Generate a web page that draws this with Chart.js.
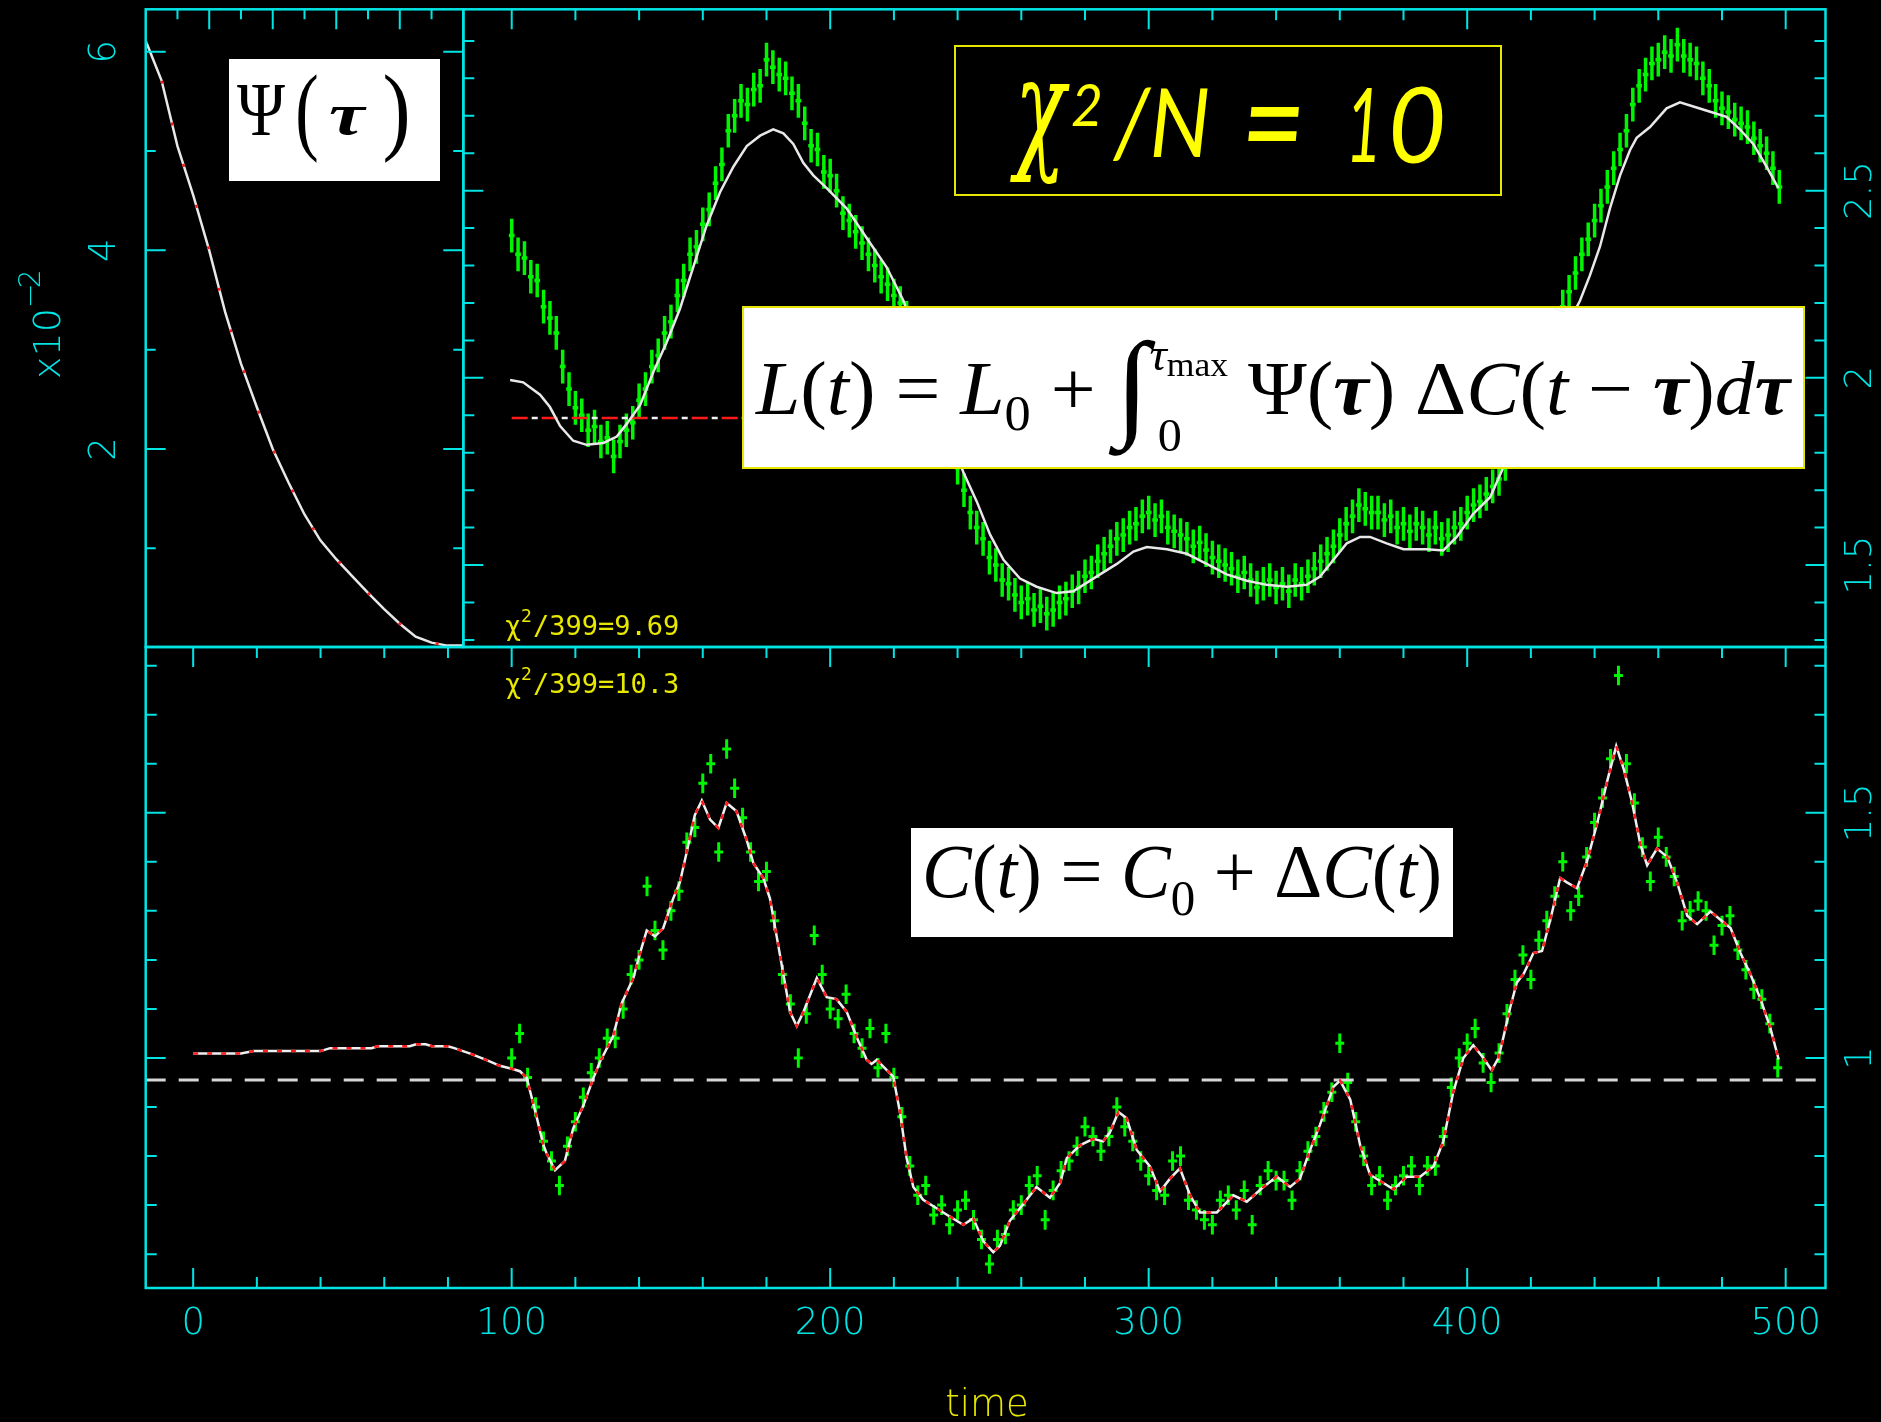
<!DOCTYPE html>
<html>
<head>
<meta charset="utf-8">
<script src="https://cdn.jsdelivr.net/npm/chart.js@4.4.1/dist/chart.umd.min.js"></script>
<style>
  html, body { margin: 0; padding: 0; background: #000; }
  #wrap { position: relative; width: 1881px; height: 1422px; background: #000; overflow: hidden; }
  #wrap canvas { position: absolute; left: 0; top: 0; }
</style>
</head>
<body>
<div id="wrap">
  <canvas id="bottomChart" width="1881" height="1422"></canvas>
  <canvas id="topChart" width="1881" height="1422"></canvas>
  <canvas id="psiChart" width="1881" height="1422"></canvas>
</div>
<script>
// ---- transfer function Psi(tau), inset
var psiTau = [0, 2.5, 5, 7.5, 10, 12.5, 15, 17.5, 20, 22.5, 25, 27.5, 30, 32.5, 35, 37.5, 40, 42.5, 45, 47.5, 50];
var psiVal = [6.11, 5.71, 5.05, 4.55, 4.0, 3.38, 2.86, 2.42, 2.0, 1.66, 1.34, 1.08, 0.89, 0.72, 0.55, 0.39, 0.24, 0.11, 0.05, 0.02, 0.02];

// ---- driving light curve C(t), model line
var tModelC = [0, 15, 19, 40, 43, 56, 58, 68, 70, 73,
  75, 80, 82, 87, 92, 96.3, 100, 102.6, 104.7, 107.8,
  110, 111, 113.6, 116.7, 119.3, 122.5, 125.6, 127.7, 131.9, 134.5,
  138.2, 140.3, 142.4, 145, 147.6, 150.7, 152.8, 154.9, 157.5, 159.7,
  162.3, 164.9, 167.5, 170.6, 173.8, 175.9, 179, 181.1, 183.2, 185.3,
  187.4, 189.5, 191.6, 195.8, 198.9, 202, 205.2, 208.3, 211.5, 213,
  214.6, 219.8, 221.9, 224, 226.1, 229.2, 235.5, 241.8, 244.9, 248.1,
  251.2, 253.3, 256.4, 260.6, 264.8, 269, 272.2, 274.3, 278.4, 282.6,
  285.7, 287.8, 290.5, 293.1, 296.2, 300.4, 303.6, 306.7, 309.8, 313,
  316.1, 321.4, 326.6, 330.8, 336, 340.2, 344.4, 347.5, 350.7, 353.8,
  358, 360.1, 363.3, 366.4, 369.5, 373.7, 376.9, 381, 385.2, 389.4,
  392.5, 395.6, 398.8, 401.9, 405.1, 407.7, 409.8, 411.4, 413.5, 415.6,
  417.7, 420.8, 423.5, 426.1, 429.2, 431.3, 434.5, 437.6, 440.8, 443.9,
  446.8, 449.2, 451.8, 454.4, 456.5, 459.6, 462.8, 465.9, 469.1, 472.2,
  476.4, 479.5, 482.7, 485.8, 488.9, 492.1, 495.2, 497.8];
var modelC = [1.009, 1.009, 1.014, 1.014, 1.02, 1.02, 1.024, 1.024, 1.028, 1.028,
  1.024, 1.024, 1.02, 1.009, 0.996, 0.984, 0.978, 0.973, 0.96, 0.881,
  0.822, 0.805, 0.771, 0.79, 0.856, 0.903, 0.958, 0.992, 1.045, 1.111,
  1.163, 1.214, 1.26, 1.248, 1.265, 1.325, 1.358, 1.418, 1.495, 1.525,
  1.486, 1.469, 1.52, 1.503, 1.444, 1.397, 1.367, 1.325, 1.248, 1.171,
  1.094, 1.065, 1.094, 1.163, 1.124, 1.12, 1.094, 1.043, 0.996, 0.988,
  0.996, 0.962, 0.89, 0.796, 0.737, 0.711, 0.685, 0.66, 0.673, 0.626,
  0.604, 0.617, 0.668, 0.702, 0.737, 0.715, 0.745, 0.796, 0.822, 0.835,
  0.83, 0.848, 0.89, 0.877, 0.813, 0.779, 0.728, 0.754, 0.775, 0.72,
  0.685, 0.685, 0.72, 0.707, 0.737, 0.758, 0.737, 0.754, 0.813, 0.864,
  0.941, 0.954, 0.915, 0.822, 0.762, 0.745, 0.732, 0.758, 0.758, 0.779,
  0.83, 0.93, 1.0, 1.026, 1.0, 0.975, 1.0, 1.043, 1.103, 1.154,
  1.171, 1.214, 1.218, 1.282, 1.367, 1.358, 1.346, 1.401, 1.478, 1.563,
  1.636, 1.588, 1.52, 1.435, 1.393, 1.427, 1.41, 1.358, 1.29, 1.273,
  1.299, 1.282, 1.265, 1.214, 1.171, 1.12, 1.061, 0.997];

// ---- C(t) measurements
var tObsC = [100, 102.5, 105, 107.5, 110, 112.5, 115, 117.5, 120, 122.5,
  125, 127.5, 130, 132.5, 135, 137.5, 140, 142.5, 145, 147.5,
  150, 152.5, 155, 157.5, 160, 162.5, 165, 167.5, 170, 172.5,
  175, 177.5, 180, 182.5, 185, 187.5, 190, 192.5, 195, 197.5,
  200, 202.5, 205, 207.5, 210, 212.5, 215, 217.5, 220, 222.5,
  225, 227.5, 230, 232.5, 235, 237.5, 240, 242.5, 245, 247.5,
  250, 252.5, 255, 257.5, 260, 262.5, 265, 267.5, 270, 272.5,
  275, 277.5, 280, 282.5, 285, 287.5, 290, 292.5, 295, 297.5,
  300, 302.5, 305, 307.5, 310, 312.5, 315, 317.5, 320, 322.5,
  325, 327.5, 330, 332.5, 335, 337.5, 340, 342.5, 345, 347.5,
  350, 352.5, 355, 357.5, 360, 362.5, 365, 367.5, 370, 372.5,
  375, 377.5, 380, 382.5, 385, 387.5, 390, 392.5, 395, 397.5,
  400, 402.5, 405, 407.5, 410, 412.5, 415, 417.5, 420, 422.5,
  425, 427.5, 430, 432.5, 435, 437.5, 440, 442.5, 445, 447.5,
  450, 452.5, 455, 457.5, 460, 462.5, 465, 467.5, 470, 472.5,
  475, 477.5, 480, 482.5, 485, 487.5, 490, 492.5, 495, 497.5];
var obsC = [1.00, 1.05, 0.96, 0.90, 0.83, 0.79, 0.74, 0.82, 0.87, 0.92,
  0.97, 1.00, 1.04, 1.04, 1.10, 1.17, 1.20, 1.35, 1.26, 1.22,
  1.30, 1.34, 1.44, 1.47, 1.56, 1.60, 1.42, 1.63, 1.55, 1.49,
  1.42, 1.36, 1.38, 1.28, 1.17, 1.11, 1.00, 1.09, 1.25, 1.17,
  1.10, 1.08, 1.13, 1.05, 1.02, 1.06, 0.98, 1.05, 0.96, 0.88,
  0.78, 0.72, 0.74, 0.68, 0.70, 0.66, 0.69, 0.71, 0.67, 0.63,
  0.58, 0.63, 0.64, 0.69, 0.70, 0.74, 0.76, 0.67, 0.73, 0.77,
  0.79, 0.82, 0.86, 0.84, 0.81, 0.84, 0.90, 0.86, 0.83, 0.79,
  0.76, 0.73, 0.72, 0.79, 0.80, 0.71, 0.69, 0.67, 0.66, 0.71,
  0.72, 0.69, 0.73, 0.66, 0.74, 0.77, 0.75, 0.75, 0.71, 0.77,
  0.81, 0.84, 0.89, 0.93, 1.03, 0.95, 0.87, 0.80, 0.74, 0.76,
  0.71, 0.74, 0.76, 0.78, 0.74, 0.78, 0.78, 0.84, 0.94, 1.00,
  1.03, 1.06, 0.99, 0.95, 1.01, 1.09, 1.16, 1.21, 1.16, 1.24,
  1.28, 1.33, 1.40, 1.30, 1.33, 1.41, 1.48, 1.53, 1.61, 1.78,
  1.60, 1.52, 1.43, 1.36, 1.45, 1.41, 1.37, 1.28, 1.30, 1.32,
  1.30, 1.23, 1.27, 1.29, 1.22, 1.18, 1.14, 1.12, 1.07, 0.98];

// ---- echo light curve L(t), model line
var tModelL = [99.5, 103.6, 108.9, 112, 115.2, 119.3, 123.5, 128.8, 133, 136.1,
  140.3, 144.5, 148.6, 152.8, 157, 161.2, 165.4, 169.6, 173.8, 178,
  182.1, 185.3, 188.4, 191.6, 194.7, 198.9, 205.2, 211.5, 217.7, 223,
  232, 241.8, 246, 250.2, 254.4, 259.6, 264.8, 271.1, 276.3, 279.5,
  284.7, 290, 295.2, 299.4, 305.7, 312, 318.2, 324.5, 330.8, 337.1,
  343.4, 349.6, 353.8, 358, 362.2, 366.4, 369.5, 374.7, 380, 387.3,
  392.5, 396.7, 401.9, 407.2, 411.3, 423, 435.4, 438.5, 441.7, 444.8,
  448, 451.1, 453.2, 457.4, 462.6, 466.8, 471, 477.3, 481.4, 485.6,
  489.8, 494, 497.7];
var modelL = [1.994, 1.988, 1.955, 1.922, 1.871, 1.832, 1.821, 1.826, 1.843, 1.877,
  1.927, 2.016, 2.094, 2.184, 2.296, 2.407, 2.496, 2.564, 2.619, 2.647,
  2.664, 2.653, 2.625, 2.574, 2.541, 2.507, 2.452, 2.373, 2.296, 2.206,
  1.98, 1.748, 1.67, 1.581, 1.514, 1.464, 1.442, 1.425, 1.43, 1.447,
  1.475, 1.503, 1.536, 1.548, 1.542, 1.53, 1.503, 1.475, 1.458, 1.447,
  1.442, 1.447, 1.469, 1.514, 1.558, 1.575, 1.575, 1.558, 1.542, 1.542,
  1.539, 1.575, 1.637, 1.681, 1.76, 2.0, 2.206, 2.273, 2.351, 2.452,
  2.541, 2.608, 2.641, 2.67, 2.72, 2.736, 2.725, 2.708, 2.697, 2.664,
  2.625, 2.564, 2.507];

// ---- L(t) measurements
var tObsL = [100, 102, 104, 106, 108, 110, 112, 114, 116, 118,
  120, 122, 124, 126, 128, 130, 132, 134, 136, 138,
  140, 142, 144, 146, 148, 150, 152, 154, 156, 158,
  160, 162, 164, 166, 168, 170, 172, 174, 176, 178,
  180, 182, 184, 186, 188, 190, 192, 194, 196, 198,
  200, 202, 204, 206, 208, 210, 212, 214, 216, 218,
  220, 222, 224, 226, 228, 230, 232, 234, 236, 238,
  240, 242, 244, 246, 248, 250, 252, 254, 256, 258,
  260, 262, 264, 266, 268, 270, 272, 274, 276, 278,
  280, 282, 284, 286, 288, 290, 292, 294, 296, 298,
  300, 302, 304, 306, 308, 310, 312, 314, 316, 318,
  320, 322, 324, 326, 328, 330, 332, 334, 336, 338,
  340, 342, 344, 346, 348, 350, 352, 354, 356, 358,
  360, 362, 364, 366, 368, 370, 372, 374, 376, 378,
  380, 382, 384, 386, 388, 390, 392, 394, 396, 398,
  400, 402, 404, 406, 408, 410, 412, 414, 416, 418,
  420, 422, 424, 426, 428, 430, 432, 434, 436, 438,
  440, 442, 444, 446, 448, 450, 452, 454, 456, 458,
  460, 462, 464, 466, 468, 470, 472, 474, 476, 478,
  480, 482, 484, 486, 488, 490, 492, 494, 496, 498];
var obsL = [2.38, 2.33, 2.32, 2.27, 2.26, 2.19, 2.16, 2.12, 2.03, 1.97,
  1.92, 1.90, 1.86, 1.87, 1.83, 1.84, 1.79, 1.83, 1.86, 1.88,
  1.94, 1.97, 2.03, 2.06, 2.12, 2.15, 2.22, 2.26, 2.33, 2.35,
  2.41, 2.45, 2.52, 2.57, 2.66, 2.70, 2.74, 2.73, 2.77, 2.78,
  2.85, 2.83, 2.81, 2.80, 2.76, 2.74, 2.68, 2.62, 2.61, 2.55,
  2.54, 2.50, 2.44, 2.42, 2.39, 2.36, 2.33, 2.30, 2.27, 2.25,
  2.22, 2.20, 2.16, 2.12, 2.08, 2.03, 1.99, 1.93, 1.88, 1.81,
  1.76, 1.70, 1.64, 1.60, 1.57, 1.52, 1.50, 1.46, 1.45, 1.42,
  1.40, 1.41, 1.38, 1.39, 1.37, 1.38, 1.40, 1.41, 1.43, 1.44,
  1.47, 1.48, 1.51, 1.53, 1.55, 1.57, 1.58, 1.60, 1.61, 1.63,
  1.64, 1.62, 1.63, 1.60, 1.59, 1.58, 1.57, 1.55, 1.56, 1.54,
  1.52, 1.51, 1.50, 1.49, 1.47, 1.48, 1.46, 1.44, 1.45, 1.46,
  1.44, 1.45, 1.43, 1.46, 1.45, 1.47, 1.49, 1.51, 1.53, 1.55,
  1.58, 1.61, 1.63, 1.66, 1.65, 1.64, 1.64, 1.62, 1.63, 1.60,
  1.61, 1.59, 1.61, 1.60, 1.58, 1.60, 1.57, 1.58, 1.60, 1.61,
  1.64, 1.66, 1.67, 1.69, 1.71, 1.73, 1.77, 1.81, 1.85, 1.90,
  1.95, 2.00, 2.05, 2.09, 2.14, 2.19, 2.23, 2.28, 2.33, 2.37,
  2.42, 2.46, 2.51, 2.56, 2.61, 2.66, 2.73, 2.78, 2.81, 2.84,
  2.85, 2.87, 2.86, 2.89, 2.86, 2.85, 2.84, 2.80, 2.78, 2.74,
  2.72, 2.71, 2.69, 2.68, 2.67, 2.64, 2.62, 2.60, 2.56, 2.51];

// levels and axis labels
var baseC = 0.955;
var baseL = 1.893;
var baseLSpan = [100, 500];
var timeLabels = ['0', '100', '200', '300', '400', '500'];
var cLabels = ['1', '1.5'];
var lLabels = ['1.5', '2', '2.5'];
var psiLabels = ['2', '4', '6'];
var chiTop = '/399=9.69';
var chiBottom = '/399=10.3';

var AXIS = '#00e4e4';
var GREEN = '#00f500';
var YEL = '#e8e800';
var SERIF = "'Liberation Serif', 'Times New Roman', serif";
var LBLFONT = "200 37px 'DejaVu Sans', sans-serif";

function pts(xs, ys) {
    return xs.map(function (x, i) { return { x: x, y: ys[i] }; });
}

// inward tick marks on one edge of the chart area
function ticks(chart, axis, edge, from, to, step, majorEvery, lenMaj, lenMin) {
    var ctx = chart.ctx, a = chart.chartArea, sc = chart.scales[axis];
    ctx.beginPath();
    for (var k = Math.round(from / step); k <= Math.round(to / step); k++) {
        var p = sc.getPixelForValue(k * step);
        var len = (k % majorEvery === 0) ? lenMaj : lenMin;
        if (edge === 'top') { ctx.moveTo(p, a.top); ctx.lineTo(p, a.top + len); }
        if (edge === 'bottom') { ctx.moveTo(p, a.bottom); ctx.lineTo(p, a.bottom - len); }
        if (edge === 'left') { ctx.moveTo(a.left, p); ctx.lineTo(a.left + len, p); }
        if (edge === 'right') { ctx.moveTo(a.right, p); ctx.lineTo(a.right - len, p); }
    }
    ctx.stroke();
}

function frame(chart) {
    var ctx = chart.ctx, a = chart.chartArea;
    ctx.strokeStyle = AXIS;
    ctx.lineWidth = 2.5;
    ctx.strokeRect(a.left, a.top, a.right - a.left, a.bottom - a.top);
    ctx.lineWidth = 2;
}

function vText(ctx, txt, x, y, font, color) {
    ctx.save();
    ctx.translate(x, y);
    ctx.rotate(-Math.PI / 2);
    ctx.font = font;
    ctx.fillStyle = color;
    ctx.textAlign = 'center';
    ctx.textBaseline = 'middle';
    ctx.fillText(txt, 0, 0);
    ctx.restore();
}

// fit the ink of a glyph run into a box
function ink(ctx, txt, font, l, t, r, b, color) {
    ctx.save();
    ctx.font = font;
    ctx.fillStyle = color;
    ctx.textAlign = 'left';
    ctx.textBaseline = 'alphabetic';
    var m = ctx.measureText(txt);
    var w = m.actualBoundingBoxLeft + m.actualBoundingBoxRight;
    var h = m.actualBoundingBoxAscent + m.actualBoundingBoxDescent;
    ctx.translate(l, t);
    ctx.scale((r - l) / w, (b - t) / h);
    ctx.fillText(txt, m.actualBoundingBoxLeft, m.actualBoundingBoxAscent);
    ctx.restore();
}

// lay out text runs and squeeze them to a width
function runs(ctx, list, x0, base, width, color) {
    var total = 0;
    ctx.save();
    ctx.textAlign = 'left';
    ctx.textBaseline = 'alphabetic';
    list.forEach(function (r) {
        ctx.font = r.f;
        r.w = ctx.measureText(r.t).width;
        if (r.adv !== false) total += r.w;
    });
    ctx.translate(x0, base);
    ctx.scale(width / total, 1);
    ctx.fillStyle = color;
    var x = 0;
    list.forEach(function (r) {
        ctx.font = r.f;
        ctx.fillText(r.t, x + (r.dx || 0), r.dy || 0);
        if (r.adv !== false) x += r.w;
    });
    ctx.restore();
}

function chiLabel(ctx, rest, y) {
    ctx.save();
    ctx.fillStyle = YEL;
    ctx.textBaseline = 'alphabetic';
    ctx.font = "27px 'DejaVu Sans Mono', monospace";
    ctx.fillText('\u03c7', 505, y);
    ctx.font = "18px 'DejaVu Sans Mono', monospace";
    ctx.fillText('2', 521, y - 13);
    ctx.font = "27px 'DejaVu Sans Mono', monospace";
    ctx.fillText(rest, 533, y);
    ctx.restore();
}

var errorBars = {
    id: 'errorBars',
    beforeDatasetsDraw: function (chart) {
        var ctx = chart.ctx, a = chart.chartArea;
        var xs = chart.scales.x, ys = chart.scales.y;
        ctx.save();
        ctx.beginPath();
        ctx.rect(a.left, a.top, a.right - a.left, a.bottom - a.top);
        ctx.clip();
        chart.data.datasets.forEach(function (ds) {
            if (!ds.errY) return;
            ctx.strokeStyle = GREEN;
            ctx.lineWidth = ds.errWidth;
            ctx.beginPath();
            ds.data.forEach(function (d) {
                var x = xs.getPixelForValue(d.x), y = ys.getPixelForValue(d.y);
                ctx.moveTo(x, ys.getPixelForValue(d.y - ds.errY));
                ctx.lineTo(x, ys.getPixelForValue(d.y + ds.errY));
                ctx.moveTo(xs.getPixelForValue(d.x - ds.errX), y);
                ctx.lineTo(xs.getPixelForValue(d.x + ds.errX), y);
            });
            ctx.stroke();
        });
        ctx.restore();
    }
};

function baseOptions(pad, xr, yr) {
    return {
        responsive: false,
        animation: false,
        devicePixelRatio: 1,
        events: [],
        layout: { padding: pad },
        plugins: { legend: { display: false }, tooltip: { enabled: false } },
        elements: { point: { radius: 0 }, line: { tension: 0 } },
        scales: {
            x: { type: 'linear', min: xr[0], max: xr[1], display: false },
            y: { type: 'linear', min: yr[0], max: yr[1], display: false }
        }
    };
}

// ---------------- bottom panel: C(t)
new Chart('bottomChart', {
    type: 'line',
    data: {
        datasets: [{
            data: pts(tModelC, modelC),
            borderColor: '#ff1a1a', borderWidth: 2.5, borderDash: [5, 9]
        }, {
            data: pts(tModelC, modelC),
            borderColor: '#f0f0f0', borderWidth: 2.5
        }, {
            data: pts([-14.9, 512.5], [baseC, baseC]),
            borderColor: '#d6d6d6', borderWidth: 3, borderDash: [20, 13]
        }, {
            data: pts(tObsC, obsC),
            showLine: false, errY: 0.02, errX: 1.4, errWidth: 3
        }]
    },
    options: baseOptions({ left: 145.7, top: 647, right: 55.5, bottom: 134 }, [-14.9, 512.5], [0.531, 1.838]),
    plugins: [errorBars, {
        id: 'bottomDecor',
        afterDraw: function (chart) {
            var ctx = chart.ctx, sx = chart.scales.x, sy = chart.scales.y;
            frame(chart);
            ticks(chart, 'x', 'top', 0, 500, 20, 5, 20, 11);
            ticks(chart, 'x', 'bottom', 0, 500, 20, 5, 20, 11);
            ticks(chart, 'y', 'left', 0.6, 1.8, 0.1, 5, 20, 11);
            ticks(chart, 'y', 'right', 0.6, 1.8, 0.1, 5, 20, 11);
            ctx.save();
            ctx.fillStyle = AXIS;
            ctx.font = LBLFONT;
            ctx.textAlign = 'center';
            ctx.textBaseline = 'middle';
            timeLabels.forEach(function (s) {
                ctx.fillText(s, sx.getPixelForValue(Number(s)), 1324);
            });
            ctx.restore();
            cLabels.forEach(function (s) {
                vText(ctx, s, 1861, sy.getPixelForValue(Number(s)), LBLFONT, AXIS);
            });
            ctx.save();
            ctx.fillStyle = YEL;
            ctx.font = "200 37px 'DejaVu Sans', sans-serif";
            ctx.textAlign = 'center';
            ctx.fillText('time', 987, 1416);
            ctx.restore();
            chiLabel(ctx, chiBottom, 693);
            // C(t) box
            ctx.fillStyle = '#ffffff';
            ctx.fillRect(911, 828, 542, 109);
            runs(ctx, [
                { t: 'C', f: 'italic 76px ' + SERIF },
                { t: '(', f: '76px ' + SERIF },
                { t: 't', f: 'italic 76px ' + SERIF },
                { t: ')', f: '76px ' + SERIF },
                { t: ' = ', f: '76px ' + SERIF },
                { t: 'C', f: 'italic 76px ' + SERIF },
                { t: '0', f: '50px ' + SERIF, dy: 18 },
                { t: ' + ', f: '76px ' + SERIF },
                { t: '\u0394', f: '76px ' + SERIF },
                { t: 'C', f: 'italic 76px ' + SERIF },
                { t: '(', f: '76px ' + SERIF },
                { t: 't', f: 'italic 76px ' + SERIF },
                { t: ')', f: '76px ' + SERIF }
            ], 922, 897, 520, '#000');
        }
    }]
});

// ---------------- top panel: L(t)
new Chart('topChart', {
    type: 'line',
    data: {
        datasets: [{
            data: pts(tModelL, modelL),
            borderColor: '#e8e8e8', borderWidth: 2.5
        }, {
            data: pts(baseLSpan, [baseL, baseL]),
            borderColor: '#f0f0f0', borderWidth: 2.5, borderDash: [6, 24], borderDashOffset: 10
        }, {
            data: pts(baseLSpan, [baseL, baseL]),
            borderColor: '#ff1a1a', borderWidth: 2.5, borderDash: [16, 14]
        }, {
            data: pts(tObsL, obsL),
            showLine: false, errY: 0.045, errX: 0.9, errWidth: 3.5
        }]
    },
    options: baseOptions({ left: 463.3, top: 9.3, right: 55.5, bottom: 775 }, [84.8, 512.5], [1.281, 2.9845]),
    plugins: [errorBars, {
        id: 'topDecor',
        afterDraw: function (chart) {
            var ctx = chart.ctx, sy = chart.scales.y;
            frame(chart);
            ticks(chart, 'x', 'top', 100, 500, 20, 5, 20, 11);
            ticks(chart, 'y', 'left', 1.3, 2.9, 0.1, 5, 20, 11);
            ticks(chart, 'y', 'right', 1.3, 2.9, 0.1, 5, 20, 11);
            lLabels.forEach(function (s) {
                vText(ctx, s, 1861, sy.getPixelForValue(Number(s)), LBLFONT, AXIS);
            });
            chiLabel(ctx, chiTop, 635);

            // chi^2/N box
            ctx.fillStyle = '#000';
            ctx.fillRect(955, 46, 546, 149);
            ctx.strokeStyle = '#e6e600';
            ctx.lineWidth = 2;
            ctx.strokeRect(955, 46, 546, 149);
            var it = "italic 100px 'Lato', 'Noto Sans', sans-serif";
            ink(ctx, '\u03c7', "italic 100px 'DejaVu Serif', 'Noto Sans', serif", 1010, 82, 1070, 185, '#ffff00');
            ink(ctx, '2', it, 1072, 84, 1100, 126, '#ffff00');
            ink(ctx, '/N', it, 1112, 88, 1208, 162, '#ffff00');
            ink(ctx, '=', it, 1248, 107, 1300, 141, '#ffff00');
            ink(ctx, '1', it, 1352, 88, 1375, 162, '#ffff00');
            ink(ctx, '0', it, 1393, 86, 1443, 164, '#ffff00');

            // L(t) box
            ctx.fillStyle = '#ffffff';
            ctx.fillRect(743, 307, 1061, 161);
            ctx.strokeStyle = '#e6e600';
            ctx.lineWidth = 2;
            ctx.strokeRect(743, 307, 1061, 161);
            runs(ctx, [
                { t: 'L', f: 'italic 76px ' + SERIF },
                { t: '(', f: '76px ' + SERIF },
                { t: 't', f: 'italic 76px ' + SERIF },
                { t: ')', f: '76px ' + SERIF },
                { t: ' = ', f: '76px ' + SERIF },
                { t: 'L', f: 'italic 76px ' + SERIF },
                { t: '0', f: '50px ' + SERIF, dy: 16 },
                { t: ' + ', f: '76px ' + SERIF },
                { t: '\u222b', f: '118px ' + SERIF, dy: 10 },
                { t: '0', f: '46px ' + SERIF, dy: 37, dx: 8, adv: false },
                { t: '\u03c4', f: 'italic 46px ' + SERIF, dy: -44 },
                { t: 'max', f: '34px ' + SERIF, dy: -38 },
                { t: ' \u03a8', f: '76px ' + SERIF },
                { t: '(', f: '76px ' + SERIF },
                { t: '\u03c4', f: 'italic bold 76px ' + SERIF },
                { t: ')', f: '76px ' + SERIF },
                { t: ' \u0394', f: '76px ' + SERIF },
                { t: 'C', f: 'italic 76px ' + SERIF },
                { t: '(', f: '76px ' + SERIF },
                { t: 't', f: 'italic 76px ' + SERIF },
                { t: ' \u2212 ', f: '76px ' + SERIF },
                { t: '\u03c4', f: 'italic bold 76px ' + SERIF },
                { t: ')', f: '76px ' + SERIF },
                { t: 'd', f: 'italic 76px ' + SERIF },
                { t: '\u03c4', f: 'italic bold 76px ' + SERIF }
            ], 756, 414, 1034, '#000');
        }
    }]
});

// ---------------- inset: Psi(tau)
new Chart('psiChart', {
    type: 'line',
    data: {
        datasets: [{
            data: pts(psiTau, psiVal),
            borderColor: '#ff1a1a', borderWidth: 2.5, borderDash: [3, 40]
        }, {
            data: pts(psiTau, psiVal),
            borderColor: '#e8e8e8', borderWidth: 2.5
        }]
    },
    options: baseOptions({ left: 145.7, top: 9.3, right: 1417.7, bottom: 775 }, [0, 50], [0.006, 6.427]),
    plugins: [{
        id: 'psiDecor',
        afterDraw: function (chart) {
            var ctx = chart.ctx, sy = chart.scales.y;
            frame(chart);
            ticks(chart, 'x', 'top', 5, 45, 5, 2, 20, 10);
            ticks(chart, 'y', 'left', 1, 6, 1, 2, 20, 10);
            ticks(chart, 'y', 'right', 1, 6, 1, 2, 20, 10);
            psiLabels.forEach(function (s) {
                vText(ctx, s, 105, sy.getPixelForValue(Number(s)), LBLFONT, AXIS);
            });
            // x10^-2
            ctx.save();
            ctx.translate(60, 379);
            ctx.rotate(-Math.PI / 2);
            ctx.fillStyle = AXIS;
            ctx.textBaseline = 'alphabetic';
            ctx.font = "200 38px 'DejaVu Sans', sans-serif";
            ctx.fillText('x10', 0, 0);
            var w = ctx.measureText('x10').width;
            ctx.font = "200 30px 'DejaVu Sans', sans-serif";
            ctx.fillText('\u2212', w, -20);
            ctx.fillText('2', w + 20, -20);
            ctx.restore();
            // Psi(tau) box
            ctx.fillStyle = '#ffffff';
            ctx.fillRect(229, 59, 211, 122);
            ink(ctx, '\u03a8', '80px ' + SERIF, 237, 84, 285, 135, '#000');
            ink(ctx, '(', '100px ' + SERIF, 298, 74, 317, 164, '#000');
            ink(ctx, '\u03c4', 'italic bold 80px ' + SERIF, 330, 107, 367, 135, '#000');
            ink(ctx, ')', '100px ' + SERIF, 385, 74, 407, 164, '#000');
        }
    }]
});
</script>
</body>
</html>
